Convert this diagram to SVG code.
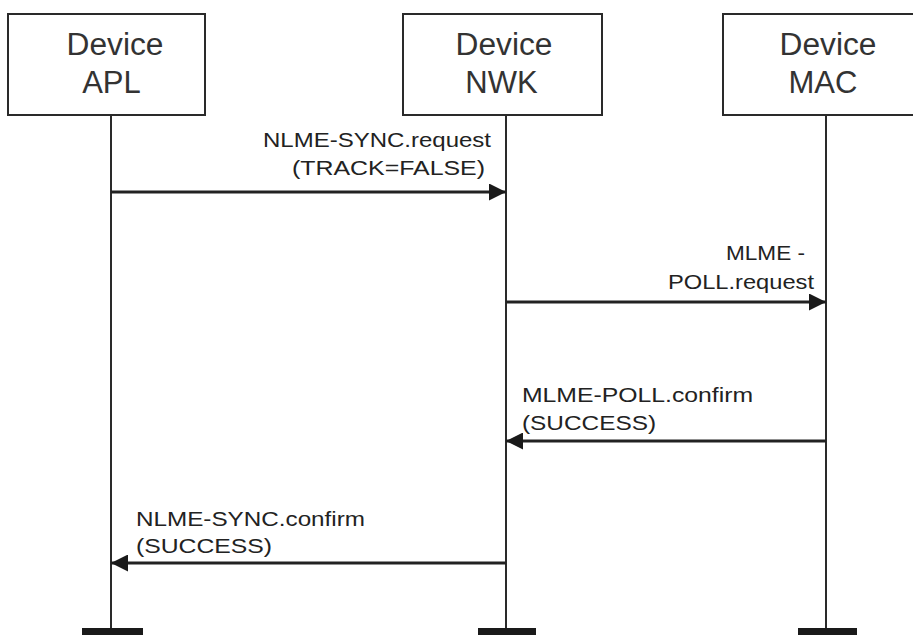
<svg xmlns="http://www.w3.org/2000/svg" width="913" height="635" viewBox="0 0 913 635">
<defs>
<style>
.box{fill:#fff;stroke:#2a2a2a;stroke-width:2}
.life{stroke:#2a2a2a;stroke-width:2}
.msg{stroke:#222;stroke-width:3;fill:none}
.hd{font-family:"Liberation Sans",Arial,sans-serif;font-size:31px;fill:#333;text-anchor:middle}
.lb{font-family:"Liberation Sans",Arial,sans-serif;font-size:21px;fill:#222}
.bar{fill:#1a1a1a}
</style>
<marker id="ah" viewBox="0 0 17 17" refX="17" refY="8.5" markerWidth="17" markerHeight="17" markerUnits="userSpaceOnUse" orient="auto">
<path d="M0,0 L17,8.5 L0,17 Z" fill="#1a1a1a"/>
</marker>
</defs>
<rect width="913" height="635" fill="#fff"/>
<g id="apl">
<line class="life" x1="111" y1="115" x2="111" y2="630"/>
<rect class="box" x="8" y="14" width="197" height="101"/>
<text class="hd" x="115" y="55" textLength="97" lengthAdjust="spacingAndGlyphs">Device</text>
<text class="hd" x="111.5" y="93">APL</text>
<rect class="bar" x="82" y="628" width="61" height="7"/>
</g>
<g id="nwk">
<line class="life" x1="506" y1="115" x2="506" y2="630"/>
<rect class="box" x="403" y="14" width="199" height="101"/>
<text class="hd" x="504" y="55" textLength="97" lengthAdjust="spacingAndGlyphs">Device</text>
<text class="hd" x="501.5" y="93">NWK</text>
<rect class="bar" x="478" y="628" width="58" height="7"/>
</g>
<g id="mac">
<line class="life" x1="826" y1="115" x2="826" y2="630"/>
<rect class="box" x="723" y="14" width="195" height="101"/>
<text class="hd" x="828" y="55" textLength="97" lengthAdjust="spacingAndGlyphs">Device</text>
<text class="hd" x="823" y="93">MAC</text>
<rect class="bar" x="798" y="628" width="59" height="7"/>
</g>
<g id="connectors">
<line class="msg" x1="111" y1="192" x2="506" y2="192" marker-end="url(#ah)"/>
<line class="msg" x1="506" y1="302" x2="826" y2="302" marker-end="url(#ah)"/>
<line class="msg" x1="826" y1="441" x2="506" y2="441" marker-end="url(#ah)"/>
<line class="msg" x1="506" y1="563" x2="111" y2="563" marker-end="url(#ah)"/>
</g>
<g id="labels">
<text class="lb" x="263" y="147" textLength="228" lengthAdjust="spacingAndGlyphs">NLME-SYNC.request</text>
<text class="lb" x="292" y="175" textLength="193" lengthAdjust="spacingAndGlyphs">(TRACK=FALSE)</text>
<text class="lb" x="726" y="260" textLength="79" lengthAdjust="spacingAndGlyphs">MLME -</text>
<text class="lb" x="668" y="289" textLength="146" lengthAdjust="spacingAndGlyphs">POLL.request</text>
<text class="lb" x="522" y="402" textLength="231" lengthAdjust="spacingAndGlyphs">MLME-POLL.confirm</text>
<text class="lb" x="522" y="430" textLength="134" lengthAdjust="spacingAndGlyphs">(SUCCESS)</text>
<text class="lb" x="136" y="526" textLength="229" lengthAdjust="spacingAndGlyphs">NLME-SYNC.confirm</text>
<text class="lb" x="136" y="553" textLength="136" lengthAdjust="spacingAndGlyphs">(SUCCESS)</text>
</g>
</svg>
